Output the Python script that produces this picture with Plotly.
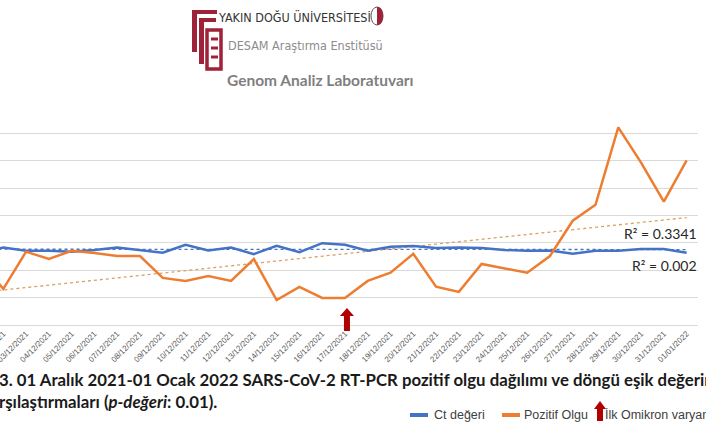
import numpy as np
import plotly.graph_objects as go

dates = [f"{d:02d}/12/2021" for d in range(1, 32)] + ["01/01/2022"]
ct_degeri = [26.7, 28.3, 27.1, 27.1, 26.8, 27.4, 28.3, 27.4, 26.4, 29.3, 27.2, 28.3, 25.9, 28.9,
             26.6, 29.9, 29.3, 27.1, 28.6, 28.9, 28.1, 28.3, 28.1, 27.4, 27.1, 27.2, 26.0, 27.1,
             27.1, 27.8, 27.8, 26.4]
pozitif_olgu = [23.0, 13.2, 26.8, 24.1, 27.1, 26.3, 25.2, 25.2, 17.2, 16.1, 17.9, 16.1, 24.1, 9.1,
                13.9, 9.9, 9.9, 16.1, 19.1, 26.0, 14.0, 12.1, 22.3, 20.8, 19.1, 25.2, 38.1, 43.9,
                72.2, 59.3, 45.1, 60.1]
r2_labels = ["R² = 0.3341", "R² = 0.002"]
legend_labels = ["Ct değeri", "Pozitif Olgu", "İlk Omikron varyantı"]
omicron_date = "17/12/2021"

W, H = 706, 431
L, R, T, B = 0, 8, 106, 106
PW, PH = W - L - R, H - T - B

def px(x):
    return (x - L) / PW

def py(y):
    return (H - B - y) / PH

xi = np.arange(len(dates))
ct_fit = np.polyval(np.polyfit(xi, ct_degeri, 1), xi)
po_fit = np.polyval(np.polyfit(xi, pozitif_olgu, 1), xi)

BLUE = "#4472C4"
ORANGE = "#ED7D31"
RED = "#B00000"
LOGO = "#9E2238"

fig = go.Figure()
fig.add_trace(go.Scatter(x=xi, y=ct_fit, mode="lines", line=dict(color=BLUE, width=1.3, dash="dot"),
                         showlegend=False, hoverinfo="skip"))
fig.add_trace(go.Scatter(x=xi, y=po_fit, mode="lines", line=dict(color="#D9A066", width=1.3, dash="dot"),
                         showlegend=False, hoverinfo="skip"))
fig.add_trace(go.Scatter(x=xi, y=ct_degeri, mode="lines", name=legend_labels[0],
                         line=dict(color=BLUE, width=2.5), showlegend=False))
fig.add_trace(go.Scatter(x=xi, y=pozitif_olgu, mode="lines", name=legend_labels[1],
                         line=dict(color=ORANGE, width=2.5), showlegend=False))

shapes = []
# Omicron arrow on the axis
oi = dates.index(omicron_date)
arrow_path = "M -1,-6 L 5,-6 L 5,9 L 9,9 L 2,17 L -5,9 L -1,9 Z"
shapes.append(dict(type="path", xref="x", yref="paper", xsizemode="pixel", ysizemode="pixel",
                   xanchor=oi, yanchor=0, path=arrow_path, fillcolor=RED, line=dict(width=0)))

# Legend
leg_y = py(415)
shapes.append(dict(type="line", xref="paper", yref="paper", x0=px(410), x1=px(428), y0=leg_y, y1=leg_y,
                   line=dict(color=BLUE, width=4)))
shapes.append(dict(type="line", xref="paper", yref="paper", x0=px(502), x1=px(520), y0=leg_y, y1=leg_y,
                   line=dict(color=ORANGE, width=4)))
shapes.append(dict(type="path", xref="paper", yref="paper", xsizemode="pixel", ysizemode="pixel",
                   xanchor=px(600), yanchor=py(421),
                   path="M -3,0 L 3,0 L 3,12 L 6,12 L 0,20 L -6,12 L -3,12 Z",
                   fillcolor=RED, line=dict(width=0)))

# Logo
def pp(points):
    return "M " + " L ".join(f"{px(a):.5f},{py(b):.5f}" for a, b in points) + " Z"

shapes.append(dict(type="path", xref="paper", yref="paper",
                   path=pp([(192, 10), (217, 10), (217, 14), (197, 14), (197, 52), (192, 52)]),
                   fillcolor=LOGO, line=dict(width=0)))
shapes.append(dict(type="path", xref="paper", yref="paper",
                   path=pp([(199, 18), (216, 18), (216, 22), (204, 22), (204, 64), (199, 64)]),
                   fillcolor=LOGO, line=dict(width=0)))
shapes.append(dict(type="rect", xref="paper", yref="paper", x0=px(207), x1=px(221), y0=py(30), y1=py(69),
                   line=dict(color=LOGO, width=3.5), fillcolor="rgba(0,0,0,0)"))
for yy in (39, 48, 57):
    shapes.append(dict(type="line", xref="paper", yref="paper", x0=px(211), x1=px(218), y0=py(yy), y1=py(yy),
                       line=dict(color=LOGO, width=3)))
shapes.append(dict(type="circle", xref="paper", yref="paper", x0=px(371), x1=px(383), y0=py(25), y1=py(7),
                   line=dict(color="#555555", width=1), fillcolor="white"))
shapes.append(dict(type="path", xref="paper", yref="paper", xsizemode="pixel", ysizemode="pixel",
                   xanchor=px(377), yanchor=py(16),
                   path="M 0,9 C 5,9 6,4 6,0 C 6,-4 5,-9 0,-9 Z", fillcolor=LOGO, line=dict(width=0)))

annotations = []

def ann(text, x, y, size, color, family, xanchor="left", bold=False):
    annotations.append(dict(text=f"<b>{text}</b>" if bold else text, x=px(x), y=py(y), xref="paper",
                            yref="paper", xanchor=xanchor, yanchor="middle", showarrow=False,
                            font=dict(size=size, color=color, family=family)))

ann("YAKIN DOĞU ÜNİVERSİTESİ", 216, 17, 12.5, "#333333", "Liberation Sans Narrow, DejaVu Sans Condensed")
ann("DESAM Araştırma Enstitüsü", 226, 45, 12.5, "#8C8C8C", "Liberation Sans Narrow, DejaVu Sans Condensed")
ann("Genom Analiz Laboratuvarı", 225, 80, 15.5, "#7F7F7F", "Lato", bold=True)

ann(r2_labels[0], 699, 233, 14, "#262626", "Lato", xanchor="right")
ann(r2_labels[1], 699, 265, 14, "#262626", "Lato", xanchor="right")

ann("3. 01 Aralık 2021-01 Ocak 2022 SARS-CoV-2 RT-PCR pozitif olgu dağılımı ve döngü eşik değerinin",
    -3, 379, 16.8, "#1A1A1A", "Lato", bold=True)
ann("rşılaştırmaları (<i>p-değeri</i>: 0.01).", -3, 401, 16.8, "#1A1A1A", "Lato", bold=True)

ann(legend_labels[0], 432, 415, 12.5, "#404040", "Liberation Sans, Arial")
ann(legend_labels[1], 522, 415, 12.5, "#404040", "Liberation Sans, Arial")
ann(legend_labels[2], 603, 415, 12.5, "#404040", "Liberation Sans, Arial")

fig.update_layout(
    width=W, height=H, margin=dict(l=L, r=R, t=T, b=B),
    paper_bgcolor="white", plot_bgcolor="white",
    shapes=shapes, annotations=annotations,
    xaxis=dict(range=[0.855, 31.5], tickmode="array", tickvals=xi, ticktext=dates, tickangle=-45,
               tickfont=dict(size=8, color="#595959", family="Liberation Sans, Arial"),
               ticklabeloverflow="allow",
               showgrid=False, showline=True, linecolor="#D9D9D9", linewidth=1, ticks="", zeroline=False,
               automargin=False),
    yaxis=dict(range=[0, 80], dtick=10, showticklabels=False, gridcolor="#D9D9D9", gridwidth=1,
               zeroline=False, showline=False, automargin=False),
    showlegend=False,
)

fig.write_html("out.html", config={"displayModeBar": False},
               post_script="document.body.style.margin='0';document.body.style.overflow='hidden';")
